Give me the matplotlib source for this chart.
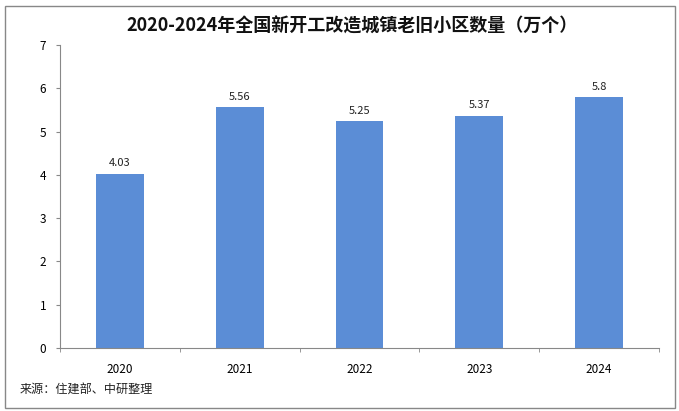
import matplotlib.pyplot as plt
from matplotlib.patches import Rectangle

plt.rcParams['font.family'] = ['Noto Sans CJK SC', 'DejaVu Sans']

years = ['2020', '2021', '2022', '2023', '2024']
values = [4.03, 5.56, 5.25, 5.37, 5.8]
value_labels = ['4.03', '5.56', '5.25', '5.37', '5.8']

fig = plt.figure(figsize=(6.79, 4.11), dpi=100)
ax = fig.add_axes([60 / 679, 1 - 348 / 411, 599 / 679, 303 / 411])

x = list(range(len(years)))
bars = ax.bar(x, values, width=0.4, color='#5B8DD6', zorder=2)
for xi, v, lab in zip(x, values, value_labels):
    ax.text(xi, v + 0.12, lab, ha='center', va='bottom', fontsize=8, color='#222222')

ax.set_xlim(-0.5, len(years) - 0.5)
ax.set_ylim(0, 7)
ax.set_yticks(range(0, 8))
ax.set_xticks(x)
ax.set_xticklabels(years, fontsize=8.5)
ax.tick_params(axis='y', labelsize=8.5, length=3, color='#888888', pad=7)
ax.tick_params(axis='x', length=0, pad=11)
# small tick marks between categories
ax.set_xticks([i + 0.5 for i in range(-1, len(years))], minor=True)
ax.tick_params(axis='x', which='minor', length=3, color='#888888')

for side in ['top', 'right']:
    ax.spines[side].set_visible(False)
for side in ['left', 'bottom']:
    ax.spines[side].set_color('#888888')

fig.text(352 / 679, 1 - 26 / 411, '2020-2024年全国新开工改造城镇老旧小区数量（万个）',
         ha='center', va='center', fontsize=13, fontweight='bold', color='#111111')
fig.text(20 / 679, 1 - 390 / 411, '来源：住建部、中研整理', ha='left', va='center',
         fontsize=8.7, color='#222222')

fig.patches.append(Rectangle((5 / 679, 3 / 411), 670 / 679, 402 / 411, transform=fig.transFigure,
                             fill=False, edgecolor='#888888', linewidth=1))

fig.savefig('out.png', dpi=100)
